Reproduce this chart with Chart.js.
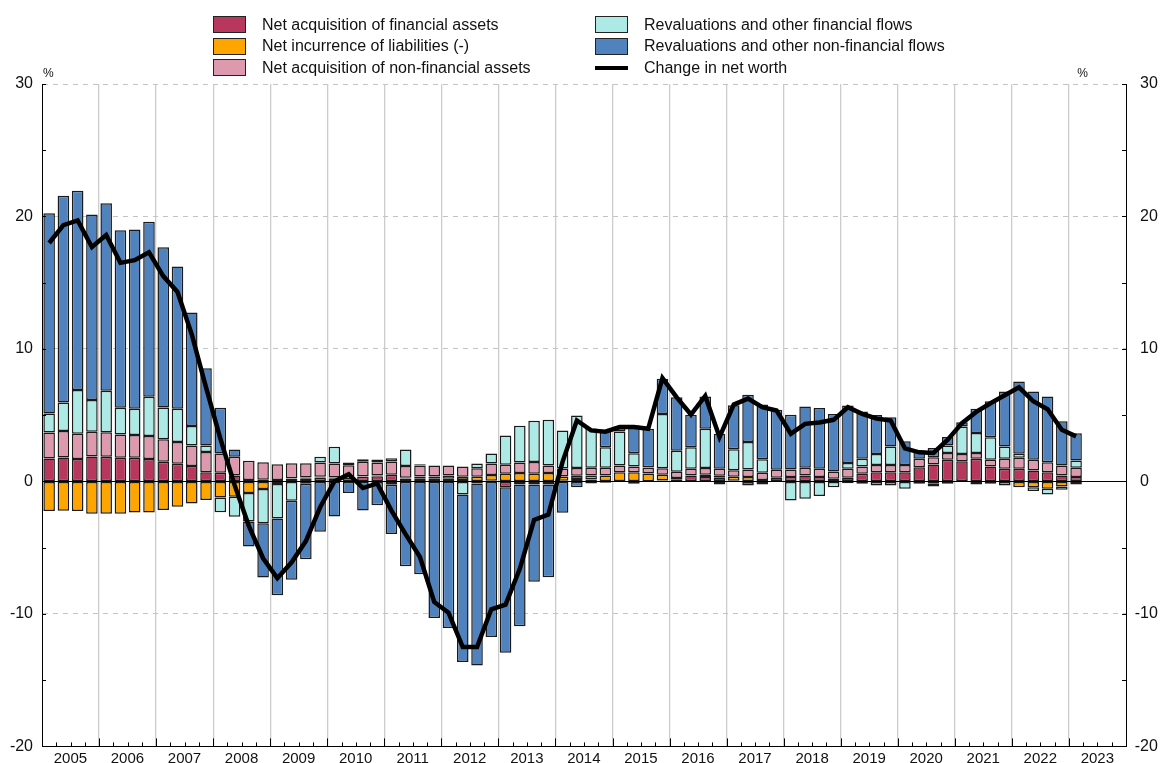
<!DOCTYPE html>
<html>
<head>
<meta charset="utf-8">
<script src="https://cdn.jsdelivr.net/npm/chart.js@4.4.0/dist/chart.umd.min.js"></script>
<style>
  body { margin: 0; background: #fff; overflow: hidden; }
  #wrap { position: relative; width: 1161px; height: 763px; overflow: hidden; }
  #legend {
    position: absolute; left: 213px; top: 14px;
    display: grid; grid-auto-flow: column;
    grid-template-rows: repeat(3, 21.5px);
    grid-template-columns: 382px auto;
    font: 16px "Liberation Sans", Arial, sans-serif; color: #111;
  }
  .item { display: flex; align-items: center; height: 21.5px; white-space: nowrap; }
  .box { width: 33px; height: 17px; box-sizing: border-box; border: 1.4px solid #222; margin-right: 16px; }
  .dash { width: 33px; height: 4px; background: #000; margin-right: 16px; }
</style>
</head>
<body>
<div id="wrap">
  <canvas id="chart" width="1161" height="765"></canvas>
  <div id="legend"></div>
</div>
<script>
// quarters 2005 Q1 .. 2023 Q4 (data runs to 2023 Q1)
var years = [2005, 2006, 2007, 2008, 2009, 2010, 2011, 2012, 2013, 2014,
             2015, 2016, 2017, 2018, 2019, 2020, 2021, 2022, 2023];
var quarters = [];
years.forEach(function(y) {
  ["Q1", "Q2", "Q3", "Q4"].forEach(function(q) { quarters.push(y + " " + q); });
});

var yMin = -20, yMax = 30;

var finAssets = [1.74,1.81,1.69,1.89,1.86,1.79,1.79,1.69,1.48,1.33,
  1.16,0.70,0.65,0.45,0.10,0.13,0.10,0.20,0.20,0.30,
  0.25,0.30,0.35,0.40,0.50,0.23,0.20,0.20,0.20,0.10,
  -0.15,0.05,-0.43,-0.23,-0.23,-0.23,0.05,0.18,0.15,-0.10,
  0.00,-0.18,0.02,0.07,0.13,0.45,0.33,0.28,0.05,-0.30,
  -0.23,0.28,0.33,0.45,0.33,0.20,0.28,0.58,0.70,0.70,
  0.70,1.08,1.28,1.64,1.53,1.71,1.13,0.96,0.96,0.83,
  0.70,0.45,0.33];

var liabilities = [-2.24,-2.21,-2.24,-2.44,-2.44,-2.44,-2.34,-2.34,-2.16,-1.91,
  -1.66,-1.41,-1.21,-1.16,-0.88,-0.58,-0.20,0.05,0.10,0.05,
  0.05,0.05,0.05,0.05,-0.25,0.05,0.18,0.18,0.25,0.25,
  0.35,0.43,0.58,0.63,0.58,0.63,0.33,0.25,0.30,0.45,
  0.70,0.70,0.58,0.43,0.13,0.00,0.18,0.15,0.30,0.33,
  0.10,0.00,0.00,0.00,0.00,0.00,-0.13,-0.18,-0.30,-0.30,
  0.00,0.00,-0.18,-0.18,-0.05,-0.23,-0.18,-0.30,-0.43,-0.43,
  -0.55,-0.38,-0.23];

var nonFinAssets = [1.96,1.99,1.91,1.86,1.86,1.76,1.71,1.74,1.71,1.64,
  1.56,1.53,1.46,1.41,1.46,1.31,1.20,1.13,1.08,1.08,
  1.06,0.88,1.08,0.98,1.00,0.88,0.83,0.83,0.75,0.78,
  0.65,0.88,0.68,0.80,0.88,0.58,0.60,0.58,0.58,0.58,
  0.50,0.43,0.43,0.50,0.48,0.50,0.50,0.53,0.50,0.58,
  0.55,0.60,0.58,0.58,0.63,0.55,0.68,0.55,0.55,0.55,
  0.55,0.63,0.55,0.50,0.55,0.43,0.50,0.75,0.83,0.80,
  0.75,0.75,0.70];

var revalFin = [1.43,2.16,3.30,2.39,3.12,2.01,1.99,2.97,2.39,2.52,
  1.46,0.48,-1.11,-1.51,-2.14,-2.57,-2.60,-1.46,-0.18,0.43,
  1.26,0.20,0.20,0.23,0.25,1.26,0.08,0.00,0.00,-0.98,
  0.35,0.75,2.21,2.77,3.12,3.45,2.87,3.97,2.97,1.56,
  2.57,1.00,0.05,4.10,1.58,1.64,2.97,-0.23,1.58,2.06,
  1.03,0.00,-1.43,-1.31,-1.10,-0.43,0.43,0.58,0.83,1.38,
  -0.55,-0.18,-0.20,0.58,2.06,1.51,1.71,0.93,0.30,-0.30,
  -0.43,-0.25,0.55];

var revalNonFin = [15.12,15.60,15.04,14.01,14.16,13.41,13.53,13.21,12.10,10.74,
  8.58,5.84,3.45,0.55,-1.89,-4.10,-5.80,-5.96,-5.69,-3.80,
  -2.64,-0.88,-2.19,-1.79,-3.72,-6.40,-7.00,-10.30,-11.07,-12.65,
  -13.75,-11.75,-12.50,-10.70,-7.35,-7.00,-2.36,-0.43,-0.15,1.26,
  0.33,2.09,2.90,2.65,4.03,2.44,2.44,2.64,3.32,3.57,
  4.13,4.53,4.13,4.63,4.58,4.35,4.35,3.57,2.94,2.21,
  1.79,0.63,0.70,0.63,0.33,1.84,2.72,4.15,5.46,5.16,
  4.96,3.35,2.06];

var netWorth = [18.0,19.35,19.7,17.7,18.6,16.5,16.7,17.3,15.5,14.3,
  11.1,7.1,3.25,-0.26,-3.35,-5.8,-7.3,-6.1,-4.5,-1.95,
  0.0,0.55,-0.5,-0.15,-2.2,-4.0,-5.7,-9.1,-9.9,-12.5,
  -12.5,-9.65,-9.3,-6.6,-2.9,-2.5,1.5,4.6,3.85,3.75,
  4.1,4.1,3.97,7.8,6.35,5.05,6.45,3.35,5.8,6.25,
  5.6,5.35,3.6,4.35,4.45,4.65,5.6,5.1,4.75,4.6,
  2.5,2.2,2.15,3.15,4.4,5.25,5.9,6.5,7.1,6.05,
  5.45,3.9,3.4];

var FONT = '"Liberation Sans", Arial, sans-serif';

function barSet(label, data, color) {
  return {
    type: "bar",
    label: label,
    data: data,
    backgroundColor: color,
    borderColor: "#1a1a1a",
    borderWidth: 1.5,
    borderSkipped: false,
    barPercentage: 0.81,
    categoryPercentage: 1,
    order: 1
  };
}

// inward tick marks, zero line, right-hand labels and the % signs
var axisExtras = {
  id: "axisExtras",
  beforeDatasetsDraw: function(chart) {
    var ctx = chart.ctx, a = chart.chartArea;
    var py = Math.round(chart.scales.y.getPixelForValue(0)) + 0.5;
    ctx.save();
    ctx.strokeStyle = "#000";
    ctx.lineWidth = 1;
    ctx.beginPath();
    ctx.moveTo(a.left, py);
    ctx.lineTo(a.right, py);
    ctx.stroke();
    ctx.restore();
  },
  afterDraw: function(chart) {
    var ctx = chart.ctx, a = chart.chartArea;
    var y = chart.scales.y, x = chart.scales.x;
    ctx.save();
    ctx.strokeStyle = "#000";
    ctx.lineWidth = 1;
    ctx.beginPath();
    for (var v = yMin; v <= yMax; v += 5) {
      var py = Math.round(y.getPixelForValue(v)) + 0.5;
      ctx.moveTo(a.left, py); ctx.lineTo(a.left + 4, py);
      ctx.moveTo(a.right, py); ctx.lineTo(a.right - 4, py);
    }
    for (var i = 1; i < quarters.length; i++) {
      var px = Math.round((x.getPixelForValue(i - 1) + x.getPixelForValue(i)) / 2) + 0.5;
      var len = i % 4 === 0 ? 8 : 4;
      ctx.moveTo(px, a.bottom); ctx.lineTo(px, a.bottom - len);
    }
    ctx.stroke();

    // right axis labels: digits aligned, minus sign hanging to the left
    ctx.fillStyle = "#111";
    ctx.font = "16px " + FONT;
    ctx.textBaseline = "middle";
    var lx = a.right + 14;
    for (var t = yMin; t <= yMax; t += 10) {
      var ty = y.getPixelForValue(t);
      ctx.textAlign = "left";
      ctx.fillText(String(Math.abs(t)), lx, ty);
      if (t < 0) {
        ctx.textAlign = "right";
        ctx.fillText("-", lx, ty);
      }
    }

    ctx.font = "12px " + FONT;
    ctx.textAlign = "left";
    ctx.fillText("%", a.left + 1, 74);
    ctx.textAlign = "right";
    ctx.fillText("%", a.right - 38, 74);
    ctx.restore();
  }
};

var ctx = document.getElementById("chart").getContext("2d");
var chart = new Chart(ctx, {
  data: {
    labels: quarters,
    datasets: [
      barSet("Net acquisition of financial assets", finAssets, "#b8375c"),
      barSet("Net incurrence of liabilities (-)", liabilities, "#ffa500"),
      barSet("Net acquisition of non-financial assets", nonFinAssets, "#dd99ad"),
      barSet("Revaluations and other financial flows", revalFin, "#adeae6"),
      barSet("Revaluations and other non-financial flows", revalNonFin, "#5083bd"),
      {
        type: "line",
        label: "Change in net worth",
        data: netWorth,
        borderColor: "#000",
        backgroundColor: "#000",
        borderWidth: 4.5,
        pointRadius: 0,
        tension: 0,
        order: 0
      }
    ]
  },
  options: {
    responsive: false,
    animation: false,
    layout: { padding: { top: 84, left: 0, right: 0, bottom: 0 } },
    plugins: { legend: { display: false }, tooltip: { enabled: false } },
    scales: {
      x: {
        stacked: true,
        offset: true,
        grid: {
          offset: true,
          drawTicks: false,
          lineWidth: 1.3,
          color: function(c) {
            return (c.index % 4 === 0 && c.index > 0 && c.index < quarters.length) ? "#cccccc" : "rgba(0,0,0,0)";
          }
        },
        border: { color: "#000", width: 1 },
        ticks: {
          autoSkip: false,
          maxRotation: 0,
          padding: 3,
          labelOffset: 7,
          color: "#111",
          font: { family: FONT, size: 15 },
          callback: function(val, i) { return i % 4 === 1 ? quarters[i].slice(0, 4) : ""; }
        },
        afterFit: function(s) { s.height = 17; }
      },
      y: {
        stacked: true,
        position: "left",
        min: yMin, max: yMax,
        grid: {
          drawTicks: false,
          lineWidth: 1,
          color: function(c) {
            var v = c.tick.value;
            return (v % 10 === 0 && v !== 0 && v !== yMin) ? "#c4c4c4" : "rgba(0,0,0,0)";
          }
        },
        border: { color: "#000", width: 1, dash: [5, 5] },
        ticks: {
          stepSize: 5,
          padding: 9,
          color: "#111",
          font: { family: FONT, size: 16 },
          callback: function(v) { return v % 10 === 0 ? v : ""; }
        },
        afterFit: function(s) { s.width = 42; }
      },
      y2: {
        position: "right",
        min: yMin, max: yMax,
        grid: { display: false, drawTicks: false },
        border: { color: "#000", width: 1 },
        ticks: { display: false, stepSize: 10 },
        afterFit: function(s) { s.width = 35; }
      }
    }
  },
  plugins: [axisExtras]
});

// two-column legend built from the datasets
var legend = document.getElementById("legend");
chart.data.datasets.forEach(function(ds) {
  var item = document.createElement("div");
  item.className = "item";
  var mark = document.createElement("span");
  if (ds.type === "line") {
    mark.className = "dash";
  } else {
    mark.className = "box";
    mark.style.background = ds.backgroundColor;
  }
  var txt = document.createElement("span");
  txt.textContent = ds.label;
  item.appendChild(mark);
  item.appendChild(txt);
  legend.appendChild(item);
});
</script>
</body>
</html>
